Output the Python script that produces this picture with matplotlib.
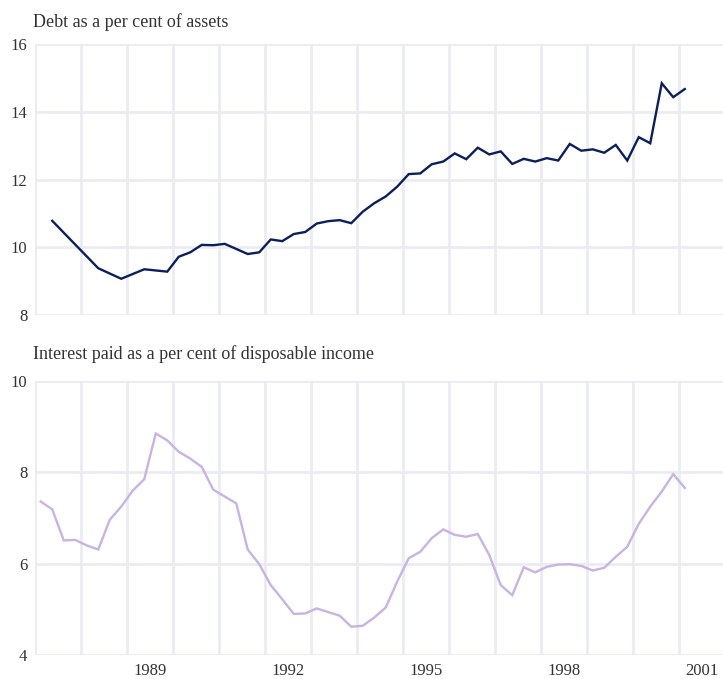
import numpy as np
import matplotlib
matplotlib.use('Agg')
import matplotlib.pyplot as plt

plt.rcParams['font.family'] = ['Liberation Serif', 'DejaVu Serif']

# Debt as a per cent of assets (semi-annual early, then quarterly)
debt_dates = [1987.375, 1988.375, 1988.875, 1989.375, 1989.875] + \
    list(1990.125 + 0.25 * np.arange(45))
debt = [10.78, 9.38, 9.07, 9.35, 9.28,
        9.72, 9.85, 10.07, 10.06, 10.10, 9.95, 9.80, 9.85,
        10.23, 10.18, 10.39, 10.45, 10.70, 10.77, 10.80, 10.71,
        11.05, 11.30, 11.50, 11.79, 12.16, 12.18, 12.45, 12.53,
        12.77, 12.60, 12.94, 12.74, 12.83, 12.46, 12.61, 12.53,
        12.63, 12.56, 13.05, 12.85, 12.89, 12.79, 13.02, 12.56,
        13.25, 13.07, 14.84, 14.43, 14.67]

# Interest paid as a per cent of disposable income (quarterly)
int_dates = list(1987.125 + 0.25 * np.arange(57))
interest = [7.36, 7.19, 6.51, 6.52, 6.40, 6.31, 6.96, 7.25,
            7.60, 7.85, 8.85, 8.70, 8.45, 8.30, 8.12, 7.62,
            7.47, 7.32, 6.31, 5.99, 5.53, 5.22, 4.90, 4.91,
            5.02, 4.94, 4.86, 4.62, 4.64, 4.82, 5.04, 5.61,
            6.12, 6.26, 6.56, 6.75, 6.63, 6.59, 6.65, 6.19,
            5.53, 5.31, 5.92, 5.81, 5.93, 5.98, 5.99, 5.95,
            5.85, 5.91, 6.15, 6.37, 6.87, 7.25, 7.58, 7.96, 7.66]

year_labels = ['1989', '1992', '1995', '1998', '2001']
titles = ['Debt as a per cent of assets',
          'Interest paid as a per cent of disposable income']

W, H = 723, 679
fig = plt.figure(figsize=(W / 100, H / 100), dpi=100)

grid_col = '#ebebf3'
text_col = '#333333'
x0 = 1987
x1 = 1987 + (723 - 35) / 46

def make_ax(top, bottom):
    ax = fig.add_axes([35 / W, 1 - bottom / H, (W - 35) / W, (bottom - top) / H])
    ax.set_xlim(x0, x1)
    ax.set_xticks(np.arange(1987, 2002))
    ax.set_xticklabels([])
    ax.grid(True, which='major', color=grid_col, linewidth=2)
    ax.set_axisbelow(True)
    for s in ax.spines.values():
        s.set_visible(False)
    ax.tick_params(which='both', length=0, labelsize=12, colors=text_col, pad=5.5)
    return ax

ax1 = make_ax(44, 315)
ax1.plot(debt_dates, debt, color='#0b1f5a', linewidth=1.7, solid_joinstyle='miter')
ax1.set_ylim(8, 16)
ax1.set_yticks([8, 10, 12, 14, 16])

ax2 = make_ax(381, 655)
ax2.plot(int_dates, interest, color='#c8b3e2', linewidth=1.7, solid_joinstyle='miter')
ax2.set_ylim(4, 10)
ax2.set_yticks([4, 6, 8, 10])
ax2.set_xticks([int(y) + 0.5 for y in year_labels], minor=True)
ax2.set_xticklabels(year_labels, minor=True)

fig.text(33 / W, 1 - 27 / H, titles[0], fontsize=13, color=text_col, va='baseline')
fig.text(33 / W, 1 - 359 / H, titles[1], fontsize=13, color=text_col, va='baseline')

fig.savefig('out.png', dpi=100, facecolor='white')
